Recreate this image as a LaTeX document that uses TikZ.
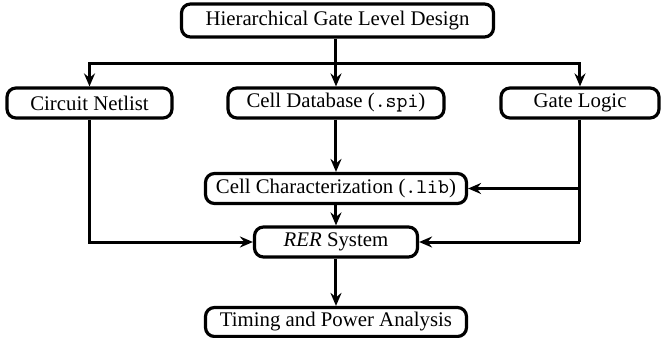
\documentclass[tikz,border=0pt]{standalone}
\usepackage{fontspec}
\setmainfont{Liberation Serif}
\usetikzlibrary{arrows.meta}
\begin{document}
\begin{tikzpicture}[x=0.5pt,y=-0.5pt,
  box/.style={draw, line width=1.6pt, rounded corners=4.5pt, inner sep=0pt,
    font=\fontsize{10.4}{12}\selectfont, minimum height=15pt},
  conn/.style={line width=1.5pt, -{Stealth[length=6.5pt,width=5.5pt,inset=2.2pt]}},
  plain/.style={line width=1.5pt}]
\useasboundingbox (0,0) rectangle (661,338);
\node[box, minimum width=156pt, minimum height=16.5pt] (top) at (337.5,20.5) {Hierarchical Gate Level Design};
\node[box, minimum width=82.5pt] (net) at (89.5,103) {Circuit Netlist};
\node[box, minimum width=108pt] (db) at (336,103) {Cell Database (\texttt{.spi})};
\node[box, minimum width=79pt] (gate) at (580,103) {Gate Logic};
\node[box, minimum width=130.5pt] (char) at (336,188.5) {Cell Characterization (\texttt{.lib})};
\node[box, minimum width=81.5pt] (rer) at (336,242) {\textit{RER} System};
\node[box, minimum width=130.5pt, minimum height=14.5pt] (tim) at (336,322) {Timing and Power Analysis};
\coordinate (br) at (336,63);
\coordinate (gc) at (580,188.5);
\coordinate (gr) at (580,242);
\draw[conn] (top.south -| db.north) -- (db.north);
\draw[conn] (br) -| (net.north);
\draw[conn] (br) -| (gate.north);
\draw[conn] (db) -- (char);
\draw[conn] (char) -- (rer);
\draw[conn] (rer) -- (tim);
\draw[plain] (gate.south) -- (gr);
\draw[conn] (gc) -- (char.east);
\draw[conn] (gr) -- (rer.east);
\draw[conn] (net.south) |- (rer.west);
\end{tikzpicture}
\end{document}
